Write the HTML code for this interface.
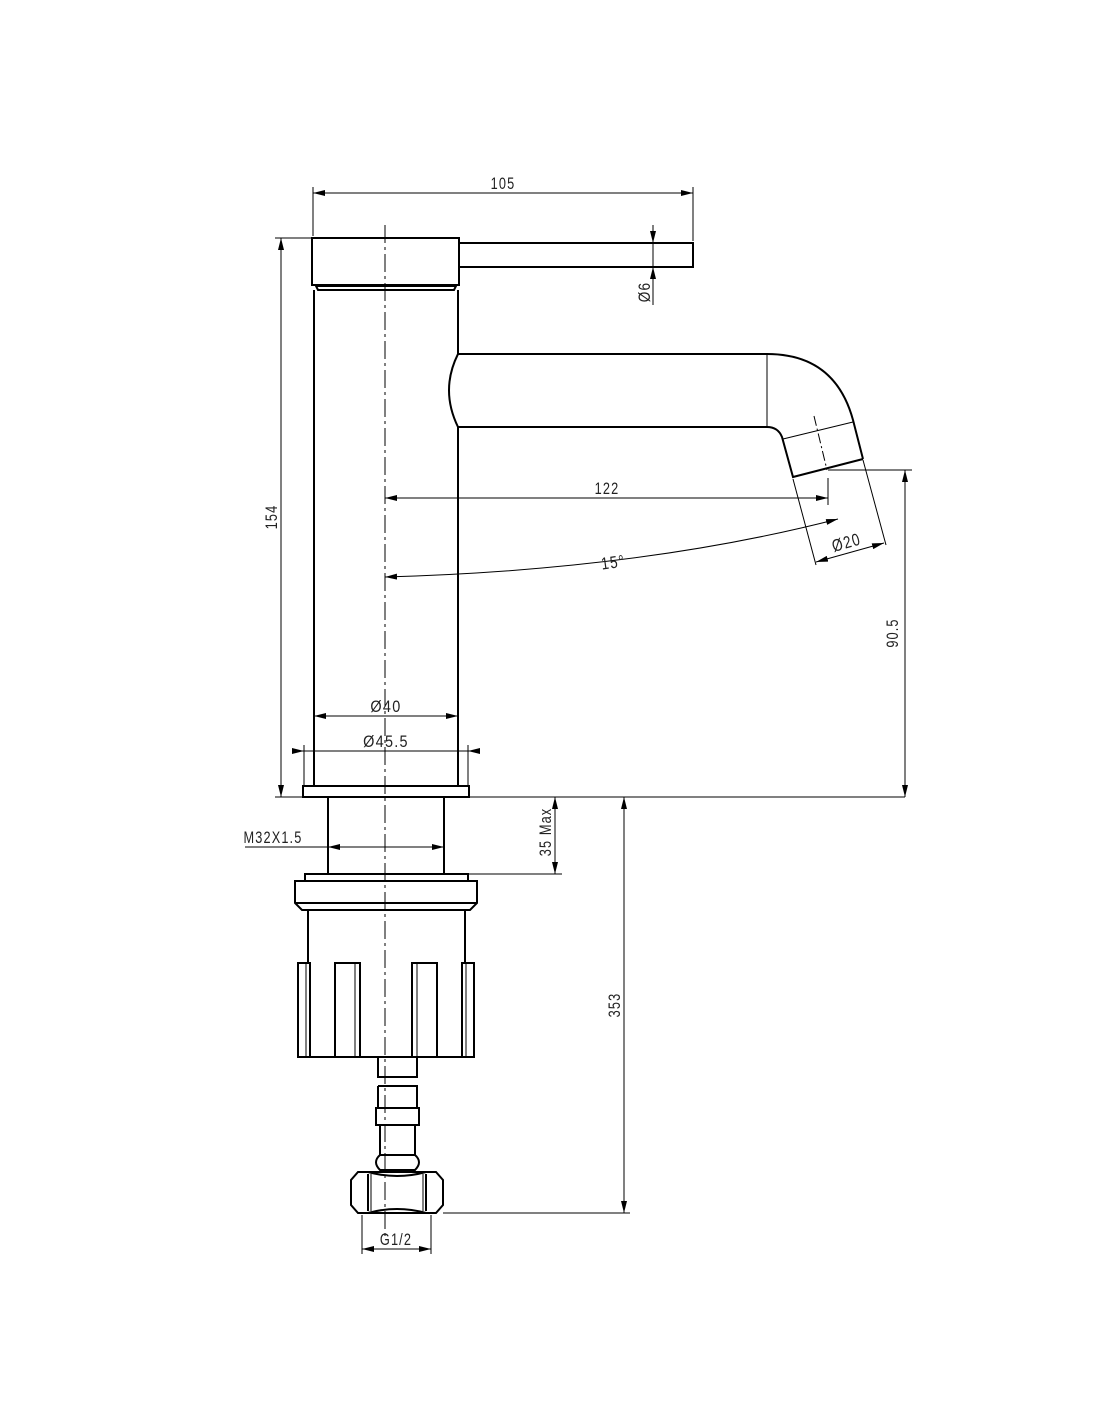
<!DOCTYPE html>
<html><head><style>
html,body{margin:0;padding:0;background:#fff;}
svg{display:block;}
text{font-family:"Liberation Sans",sans-serif;font-size:17px;letter-spacing:1.5px;fill:#222;}
</style></head><body>
<svg width="1100" height="1422" viewBox="0 0 1100 1422" xmlns="http://www.w3.org/2000/svg">
<defs>
<marker id="a" viewBox="0 0 12 6" refX="12" refY="3" markerWidth="12" markerHeight="6" orient="auto-start-reverse" markerUnits="userSpaceOnUse"><path d="M0,0 L12,3 L0,6 Z" fill="#000"/></marker>
</defs>
<g fill="none" stroke="#000" stroke-width="2">
<rect x="312" y="238" width="147" height="47"/>
<path d="M459,243 H693 V267 H459"/>
<path d="M316,286 H456 L454,290 H318 Z" stroke-width="2"/>
<path d="M314,290 V786 M458,290 V354 M458,427 V786"/>
<path d="M458,354 Q440,390 458,427"/>
<path d="M458,354 H767 Q835,354 853,420 L863,459"/>
<path d="M458,427 H767 Q778,427 782,437 L793,477 L863,459"/>
<rect x="303" y="786" width="166" height="11"/>
<path d="M328,797 V874 M444,797 V874"/>
<rect x="305" y="874" width="163" height="7"/>
<path d="M295,881 H477 V903 L470,910 H302 L295,903 Z"/>
<path d="M295,903 H477"/>
<path d="M308,910 V963 M465,910 V963"/>
<rect x="298" y="963" width="12" height="94"/>
<rect x="335" y="963" width="25" height="94"/>
<rect x="412" y="963" width="25" height="94"/>
<rect x="462" y="963" width="12" height="94"/>
<path d="M298,1057 H474"/>
<path d="M378,1058 V1077 H417 V1058"/>
<path d="M378,1086 H417 V1108 M378,1086 V1108"/>
<path d="M376,1108 H419 V1125 H376 Z"/>
<path d="M380,1125 V1155 M415,1125 V1155"/>
<path d="M380,1155 Q372,1162 380,1170 H415 Q423,1162 415,1155 Z"/>
<path d="M358,1172 H436 L443,1180 V1205 L436,1213 H358 L351,1205 V1180 Z"/>
<path d="M368,1172 Q397,1180 426,1172 M368,1213 Q397,1205 426,1213 M368,1174 V1211 M426,1174 V1211"/>
</g>
<g fill="none" stroke="#000" stroke-width="1">
<path d="M371,1174 V1211 M423,1174 V1211 M355,963 V1057 M417,963 V1057 M306,963 V1057 M466,963 V1057"/>
<path d="M767,354 V427"/>
<path d="M783,439 L853,422"/>
<path d="M385,225 V1240" stroke-dasharray="18,4,3,4"/>
<path d="M814,416 L827,470" stroke-dasharray="10,3,2,3"/>
<path d="M313,236 V187 M693,241 V187"/>
<path d="M313,193 H693" marker-start="url(#a)" marker-end="url(#a)"/>
<path d="M275,238 H312 M275,797 H303"/>
<path d="M281,238 V797" marker-start="url(#a)" marker-end="url(#a)"/>
<path d="M653,225 V243" marker-end="url(#a)"/>
<path d="M653,305 V267" marker-end="url(#a)"/>
<path d="M653,243 V267"/>
<path d="M828,478 V505"/>
<path d="M385,498 H828" marker-start="url(#a)" marker-end="url(#a)"/>
<path d="M385,577 Q640,570 838,519" marker-start="url(#a)" marker-end="url(#a)"/>
<path d="M793,479 L816,565 M863,460 L886,545"/>
<path d="M816,562 L884,543" marker-start="url(#a)" marker-end="url(#a)"/>
<path d="M828,470 H912"/>
<path d="M905,470 V797" marker-start="url(#a)" marker-end="url(#a)"/>
<path d="M469,797 H905"/>
<path d="M314,716 H458" marker-start="url(#a)" marker-end="url(#a)"/>
<path d="M304,745 V786 M468,745 V786"/>
<path d="M304,751 H468"/>
<path d="M292,751 H304" marker-end="url(#a)"/>
<path d="M480,751 H468" marker-end="url(#a)"/>
<path d="M468,874 H562"/>
<path d="M555,797 V874" marker-start="url(#a)" marker-end="url(#a)"/>
<path d="M245,847 H444"/>
<path d="M345,847 H328" marker-end="url(#a)"/>
<path d="M427,847 H444" marker-end="url(#a)"/>
<path d="M443,1213 H630"/>
<path d="M624,797 V1213" marker-start="url(#a)" marker-end="url(#a)"/>
<path d="M362,1215 V1254 M431,1215 V1254"/>
<path d="M362,1249 H431" marker-start="url(#a)" marker-end="url(#a)"/>
</g>
<g>
<text x="503" y="189" text-anchor="middle" transform="translate(503,0) scale(0.75,1) translate(-503,0)">105</text>
<text transform="translate(277,517) rotate(-90) scale(0.75,1)" text-anchor="middle">154</text>
<text transform="translate(650,292) rotate(-90) scale(0.8,1)" text-anchor="middle">Ø6</text>
<text x="607" y="494" text-anchor="middle" transform="translate(607,0) scale(0.75,1) translate(-607,0)">122</text>
<text transform="translate(614,568) rotate(-8) scale(0.8,1)" text-anchor="middle">15°</text>
<text transform="translate(848,548) rotate(-16) scale(0.8,1)" text-anchor="middle">Ø20</text>
<text transform="translate(898,633) rotate(-90) scale(0.75,1)" text-anchor="middle">90.5</text>
<text x="386" y="712" text-anchor="middle" transform="translate(386,0) scale(0.85,1) translate(-386,0)">Ø40</text>
<text x="386" y="747" text-anchor="middle" transform="translate(386,0) scale(0.85,1) translate(-386,0)">Ø45.5</text>
<text transform="translate(551,832) rotate(-90) scale(0.75,1)" text-anchor="middle">35 Max</text>
<text x="273" y="843" text-anchor="middle" transform="translate(273,0) scale(0.75,1) translate(-273,0)">M32X1.5</text>
<text transform="translate(620,1005) rotate(-90) scale(0.75,1)" text-anchor="middle">353</text>
<text x="396" y="1245" text-anchor="middle" transform="translate(396,0) scale(0.75,1) translate(-396,0)">G1/2</text>
</g>
</svg>
</body></html>
